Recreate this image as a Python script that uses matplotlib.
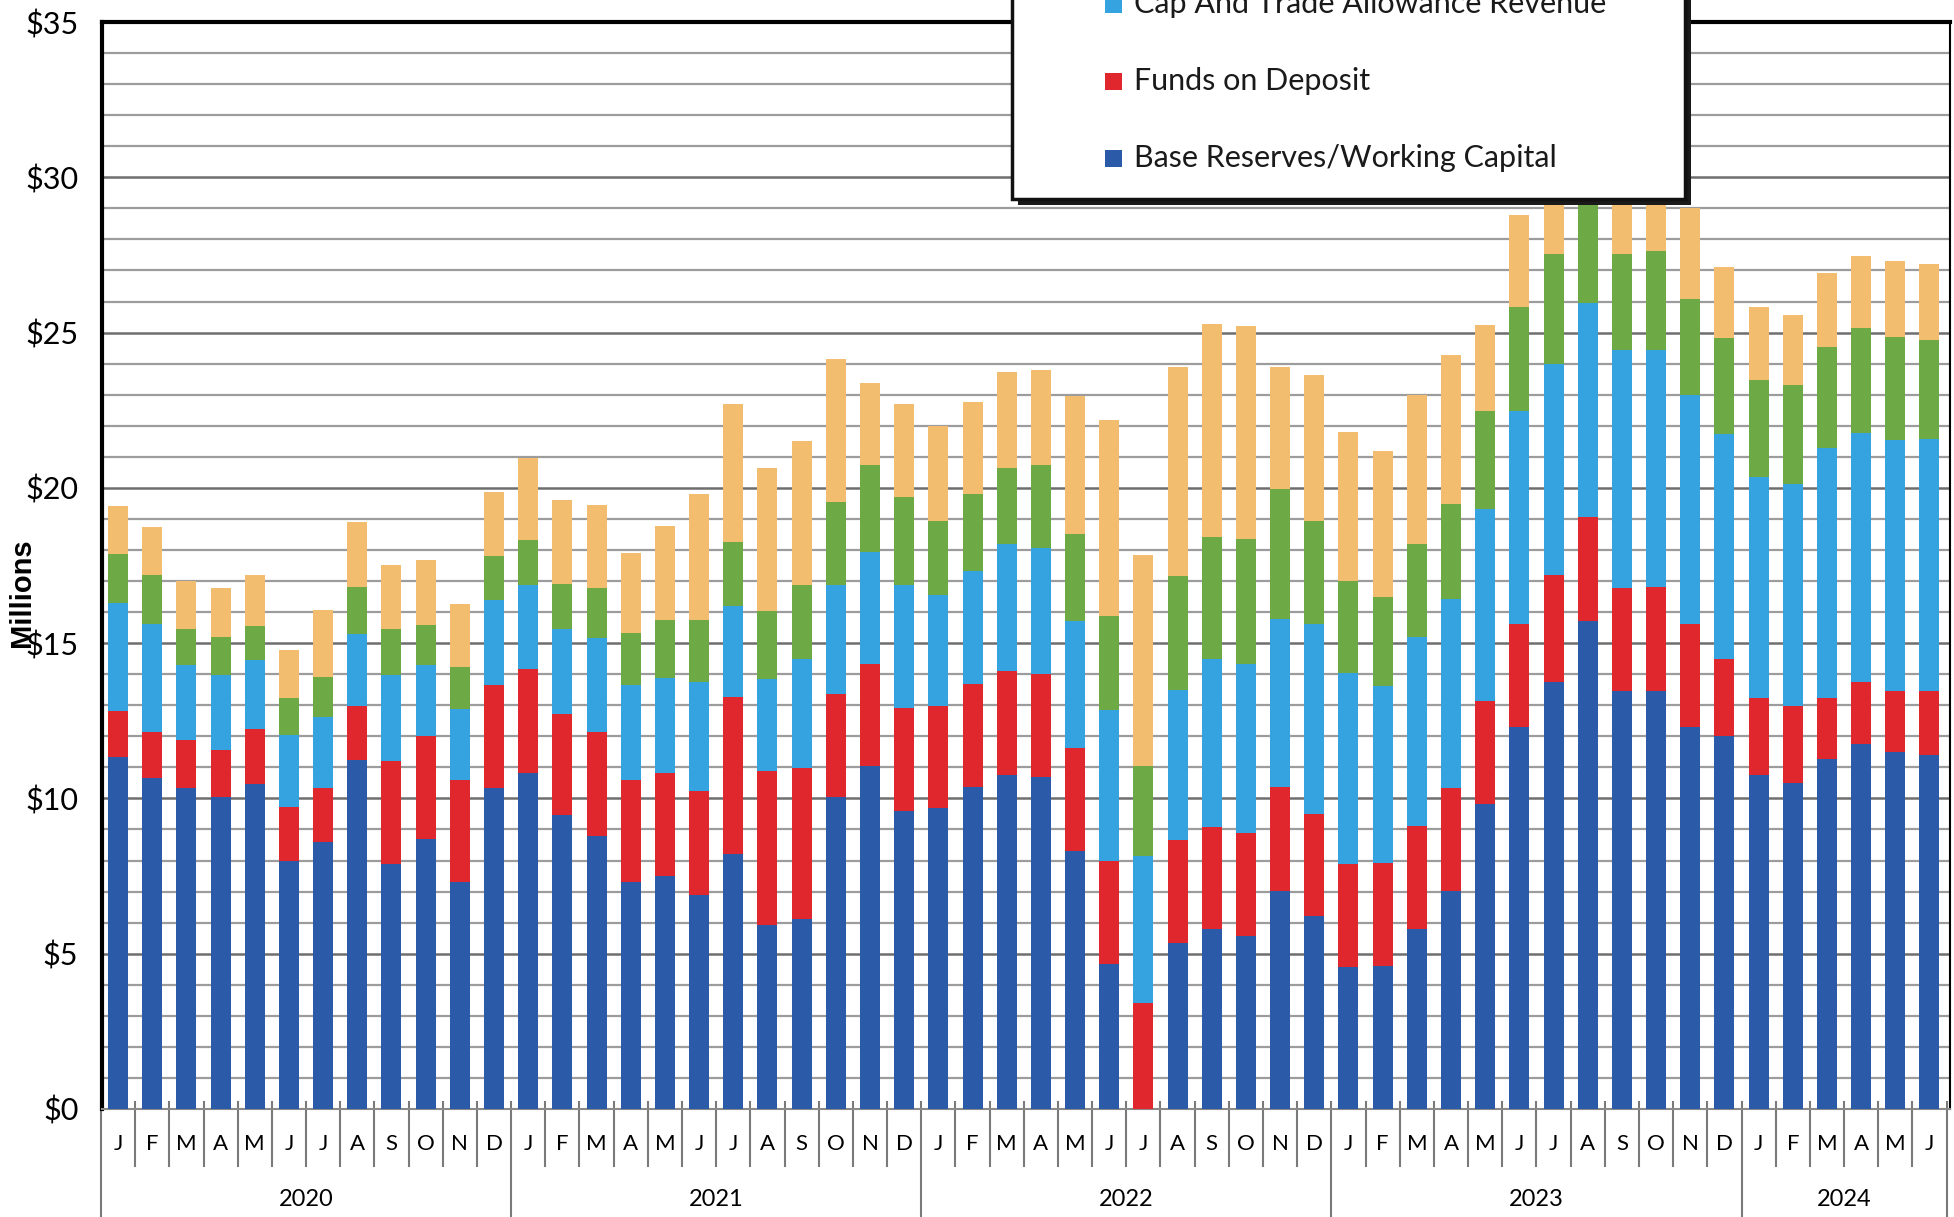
import matplotlib.pyplot as plt
from matplotlib.patches import Rectangle
import numpy as np

# stacked segments, $ millions, Jan 2020 .. Jun 2024
base_reserves = [11.34, 10.67, 10.33, 10.05, 10.46, 7.98, 8.60, 11.23, 7.88, 8.68, 7.31, 10.35,
                 10.81, 9.46, 8.79, 7.31, 7.51, 6.89, 8.22, 5.94, 6.11, 10.04, 11.03, 9.60,
                 9.68, 10.37, 10.75, 10.70, 8.31, 4.67, 0.00, 5.36, 5.78, 5.58, 7.03, 6.20,
                 4.58, 4.60, 5.78, 7.02, 9.83, 12.31, 13.74, 15.70, 13.47, 13.47, 12.31, 12.02,
                 10.74, 10.50, 11.26, 11.76, 11.51, 11.41]
funds_on_deposit = [1.46, 1.46, 1.56, 1.50, 1.77, 1.76, 1.73, 1.74, 3.33, 3.34, 3.27, 3.31,
                    3.36, 3.25, 3.34, 3.27, 3.32, 3.35, 5.04, 4.93, 4.87, 3.31, 3.31, 3.30,
                    3.30, 3.31, 3.34, 3.30, 3.30, 3.31, 3.40, 3.31, 3.30, 3.30, 3.34, 3.30,
                    3.30, 3.32, 3.34, 3.30, 3.30, 3.30, 3.44, 3.35, 3.32, 3.34, 3.30, 2.48,
                    2.49, 2.48, 1.97, 1.98, 1.96, 2.06]
cap_and_trade = [3.50, 3.49, 2.40, 2.44, 2.22, 2.29, 2.30, 2.34, 2.78, 2.29, 2.30, 2.72,
                 2.71, 2.74, 3.05, 3.08, 3.06, 3.50, 2.95, 2.97, 3.52, 3.53, 3.59, 3.98,
                 3.56, 3.63, 4.10, 4.07, 4.10, 4.87, 4.74, 4.81, 5.42, 5.46, 5.42, 6.13,
                 6.15, 5.69, 6.07, 6.09, 6.18, 6.87, 6.82, 6.90, 7.66, 7.64, 7.39, 7.22,
                 7.11, 7.15, 8.05, 8.03, 8.06, 8.11]
green_series = [1.56, 1.56, 1.16, 1.22, 1.10, 1.20, 1.28, 1.50, 1.46, 1.26, 1.35, 1.43,
                1.44, 1.47, 1.59, 1.66, 1.87, 2.02, 2.05, 2.20, 2.38, 2.65, 2.81, 2.83,
                2.39, 2.48, 2.46, 2.67, 2.79, 3.03, 2.89, 3.67, 3.92, 4.00, 4.17, 3.30,
                2.98, 2.86, 3.00, 3.07, 3.17, 3.34, 3.54, 3.65, 3.09, 3.18, 3.07, 3.09,
                3.13, 3.17, 3.24, 3.38, 3.34, 3.19]
orange_series = [1.56, 1.56, 1.55, 1.55, 1.63, 1.56, 2.15, 2.09, 2.07, 2.10, 2.04, 2.07,
                 2.65, 2.68, 2.67, 2.58, 3.00, 4.04, 4.43, 4.61, 4.62, 4.63, 2.64, 2.98,
                 3.07, 2.98, 3.08, 3.05, 4.47, 6.29, 6.81, 6.74, 6.86, 6.86, 3.93, 4.70,
                 4.79, 4.71, 4.81, 4.79, 2.75, 2.96, 2.46, 2.40, 2.36, 2.27, 2.93, 2.29,
                 2.35, 2.27, 2.39, 2.33, 2.42, 2.44]

month_letters = ["J", "F", "M", "A", "M", "J", "J", "A", "S", "O", "N", "D"]
years = ["2020", "2021", "2022", "2023", "2024"]
legend_labels = ["Cap And Trade Allowance Revenue", "Funds on Deposit",
                 "Base Reserves/Working Capital"]
y_ticks = [0, 5, 10, 15, 20, 25, 30, 35]

colors = ["#2B5BA8", "#E0272D", "#35A3E0", "#6DAA45", "#F2BD6E"]

W, H = 1954, 1217
fig = plt.figure(figsize=(W / 100, H / 100), dpi=100)
ax = fig.add_axes([102 / W, 1 - 1109 / H, (1950 - 102) / W, (1109 - 22) / H])

n = len(base_reserves)
x = np.arange(n)
series = [base_reserves, funds_on_deposit, cap_and_trade, green_series, orange_series]
bottom = np.zeros(n)
for vals, c in zip(series, colors):
    ax.bar(x, vals, width=0.585, bottom=bottom, color=c, zorder=3)
    bottom += np.array(vals)

ax.set_xlim(-0.47, n - 0.4)
ax.set_ylim(0, 35)

# $1 gridlines
ax.set_yticks(np.arange(0, 36, 1), minor=True)
ax.grid(axis="y", which="minor", color="#9c9c9c", lw=1.6, zorder=0)
ax.grid(axis="y", which="major", color="#6e6e6e", lw=1.8, zorder=0)
ax.set_yticks(y_ticks)
ax.set_yticklabels([f"${v}" for v in y_ticks], fontsize=22, family="Lato")
ax.tick_params(axis="y", which="both", length=0, pad=17)

ax.spines["left"].set_linewidth(3)
ax.spines["top"].set_linewidth(3)
ax.spines["right"].set_linewidth(1.5)
ax.spines["bottom"].set_color("#8a8a8a")
ax.spines["bottom"].set_linewidth(1.5)

# month / year category axis
ax.set_xticks(x)
ax.set_xticklabels([month_letters[i % 12] for i in range(n)], fontsize=16, family="Lato")
ax.tick_params(axis="x", length=0, pad=18)
tr = ax.get_xaxis_transform()
for i in range(n + 1):
    is_year = i % 12 == 0 or i == n
    y_end = -0.098 if is_year else -0.052
    ax.plot([i - 0.5, i - 0.5], [0.006, y_end], transform=tr, color="#7a7a7a",
            lw=1.5, clip_on=False, zorder=1)
for k, yr in enumerate(years):
    start = 12 * k
    end = min(12 * k + 11, n - 1)
    ax.text((start + end) / 2, -0.083, yr, transform=tr, ha="center", va="center",
            fontsize=17, family="Lato")

fig.text(22 / W, 1 - 593 / H, "Millions", rotation=90, ha="center", va="center",
         fontsize=21, fontweight="bold", family="Liberation Sans")

# legend box, cut by the top edge of the page
def fxy(px, py):
    return px / W, 1 - py / H

fig.add_artist(Rectangle(fxy(1018, 205), 673 / W, 260 / H, transform=fig.transFigure,
                         facecolor="#1a1a1a", edgecolor="none", zorder=10))
fig.add_artist(Rectangle(fxy(1012, 199), 673 / W, 260 / H, transform=fig.transFigure,
                         facecolor="white", edgecolor="#111111", lw=2.5, zorder=11))
for lbl, c, py in zip(legend_labels, [colors[2], colors[1], colors[0]], [4, 81, 158]):
    fig.add_artist(Rectangle(fxy(1105, py + 9), 17 / W, 17 / H, transform=fig.transFigure,
                             facecolor=c, edgecolor="none", zorder=12))
    fig.text(*fxy(1134, py), lbl, ha="left", va="center", fontsize=22, family="Lato",
             color="#1a1a1a", zorder=12)

fig.savefig("out.png", dpi=100)
